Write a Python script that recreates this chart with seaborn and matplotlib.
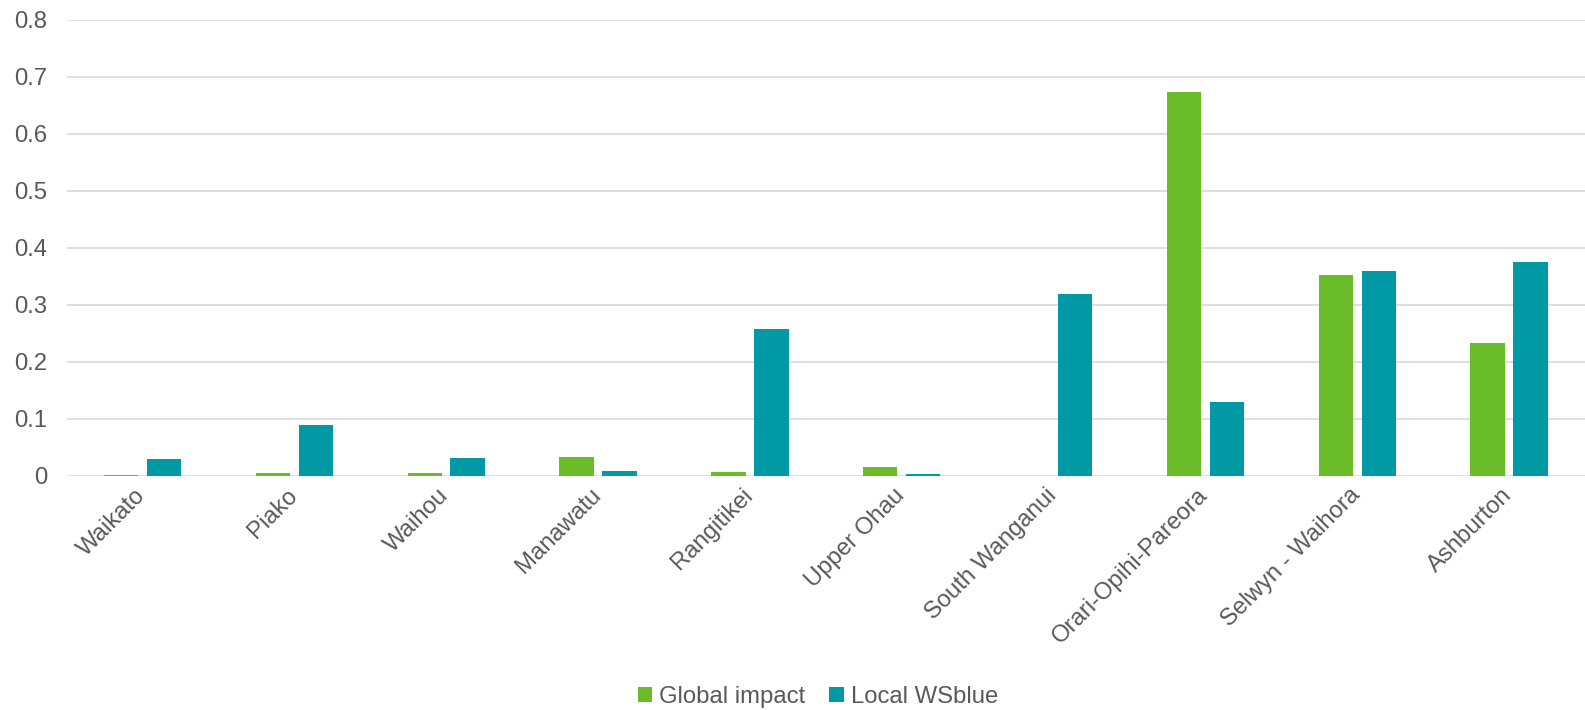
import numpy as np
import pandas as pd
import seaborn as sns
import matplotlib.pyplot as plt
from matplotlib.transforms import ScaledTranslation

catchments = ["Waikato", "Piako", "Waihou", "Manawatu", "Rangitikei",
              "Upper Ohau", "South Wanganui", "Orari-Opihi-Pareora",
              "Selwyn - Waihora", "Ashburton"]
global_impact = [0.001, 0.005, 0.006, 0.033, 0.007, 0.016, 0.0, 0.673, 0.352, 0.233]
local_wsblue = [0.030, 0.089, 0.031, 0.009, 0.257, 0.003, 0.319, 0.129, 0.360, 0.375]
series = ["Global impact", "Local WSblue"]
colors = ["#6ABD28", "#0199A6"]

df = pd.DataFrame({
    "catchment": catchments * 2,
    "value": global_impact + local_wsblue,
    "series": [series[0]] * len(catchments) + [series[1]] * len(catchments),
})

sns.set_style("white")
plt.rcParams["font.family"] = ["Liberation Sans", "DejaVu Sans"]
text_color = "#595959"
fs = 17.2

fig = plt.figure(figsize=(15.85, 7.1), dpi=100)
ax = fig.add_axes([0.042, 0.3296, 0.958, 0.6423])

sns.barplot(data=df, x="catchment", y="value", hue="series",
            palette=colors, width=0.566, gap=0.2, ax=ax,
            edgecolor="none", linewidth=0, saturation=1)

ax.set_ylim(0, 0.8)
ax.set_yticks(np.arange(0, 0.81, 0.1))
ax.set_yticklabels(["0"] + [f"{v:.1f}" for v in np.arange(0.1, 0.81, 0.1)])
ax.set_xlim(-0.5, len(catchments) - 0.5)
ax.grid(axis="y", color="#D9D9D9", linewidth=1.2)
ax.set_axisbelow(True)
for s in ax.spines.values():
    s.set_visible(False)
ax.set_xlabel("")
ax.set_ylabel("")
ax.tick_params(axis="y", length=0, pad=14, labelsize=fs, labelcolor=text_color)
ax.tick_params(axis="x", length=0, pad=6, labelsize=fs, labelcolor=text_color)
shift = ScaledTranslation(-6 / 72, 0, fig.dpi_scale_trans)
for lab in ax.get_xticklabels():
    lab.set_rotation(45)
    lab.set_ha("right")
    lab.set_rotation_mode("anchor")
    lab.set_transform(lab.get_transform() + shift)

ax.legend_.remove()
handles, labels = ax.get_legend_handles_labels()
fig.legend(handles, labels, loc="center", bbox_to_anchor=(0.516, 0.018),
           ncol=2, frameon=False, fontsize=fs, labelcolor=text_color,
           handlelength=0.6, handleheight=0.6, handletextpad=0.3,
           columnspacing=1.0)

fig.savefig("out.png", dpi=100)
